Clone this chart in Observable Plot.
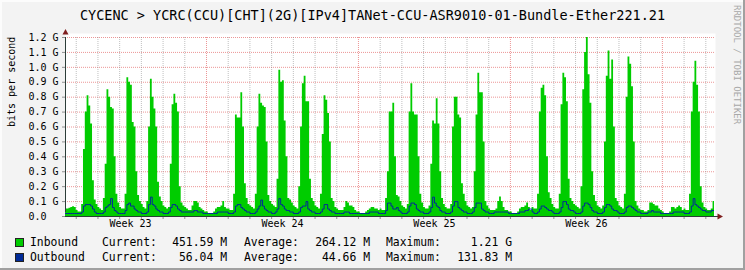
<!DOCTYPE html>
<html><head><meta charset="utf-8">
<script src="https://cdn.jsdelivr.net/npm/d3@7"></script>
<script src="https://cdn.jsdelivr.net/npm/@observablehq/plot@0.6"></script>
<style>
html,body{margin:0;padding:0;background:#f3f3f3;}
#wrap{position:relative;width:745px;height:270px;background:#f3f3f3;overflow:hidden;font-family:"DejaVu Sans Mono",monospace;color:#000;
  box-shadow: inset -2px -2px 0 #a0a0a0, inset 2px 2px 0 #fcfcfc;}
#wrap svg{position:absolute;left:0;top:0;}
.t{position:absolute;white-space:pre;line-height:14px;}
.box{position:absolute;width:7px;height:7px;border:1px solid #222;}
</style></head>
<body><div id="wrap"></div>
<script>
// ---- data (Gbit/s, 2-hour averages; t in days from start of Week 24) ----
const title = "CYCENC > YCRC(CCU)[CHT](2G)[IPv4]TANet-CCU-ASR9010-01-Bundle-Ether221.21";
const yLabel = "bits per second";
const sideText = "RRDTOOL / TOBI OETIKER";
const seriesStart = -6.5;          // first sample time (days)
const binDays = 1 / 12;            // 2 hours

const inboundWeek23 = [
  0.05,0.05,0.055,0.06,0.065,0.06,
  0.04,0.03,0.03,0.08,0.45,0.7,0.81,0.74,0.62,0.24,0.11,0.08,
  0.06,0.05,0.04,0.12,0.35,0.85,0.8,0.73,0.72,0.4,0.15,0.09,
  0.06,0.05,0.05,0.15,0.93,0.9,0.88,0.63,0.6,0.3,0.14,0.1,
  0.08,0.06,0.05,0.1,0.6,0.92,0.8,0.72,0.6,0.23,0.13,0.1,
  0.07,0.06,0.05,0.06,0.35,0.75,0.82,0.76,0.7,0.2,0.09,0.07,
  0.06,0.05,0.04,0.04,0.07,0.1,0.1,0.09,0.06,0.05,0.04,0.03
];
const inboundWeek24 = [
  0.03,0.02,0.02,0.02,0.03,0.05,0.06,0.06,0.07,0.1,0.06,0.05,
  0.05,0.04,0.04,0.15,0.68,0.66,0.66,0.83,0.6,0.22,0.12,0.08,
  0.07,0.06,0.05,0.15,0.6,0.82,0.76,0.74,0.73,0.5,0.14,0.1,
  0.08,0.07,0.06,0.25,0.98,0.9,0.91,0.64,0.4,0.12,0.11,0.09,
  0.07,0.06,0.05,0.2,0.6,0.89,0.94,0.77,0.77,0.25,0.12,0.1,
  0.07,0.06,0.05,0.15,0.55,0.81,0.78,0.69,0.5,0.12,0.1,0.06,
  0.05,0.04,0.04,0.04,0.06,0.1,0.09,0.07,0.07,0.06,0.04,0.03
];
const inboundWeek25 = [
  0.03,0.02,0.02,0.02,0.03,0.04,0.05,0.06,0.06,0.05,0.05,0.04,
  0.05,0.04,0.04,0.12,0.3,0.7,0.7,0.76,0.4,0.14,0.13,0.1,
  0.07,0.06,0.05,0.08,0.7,0.89,0.7,0.68,0.68,0.4,0.15,0.09,
  0.06,0.05,0.05,0.07,0.35,0.64,0.62,0.79,0.62,0.3,0.12,0.08,
  0.06,0.05,0.05,0.08,0.6,0.8,0.8,0.68,0.66,0.22,0.15,0.1,
  0.07,0.06,0.05,0.06,0.3,0.68,0.96,0.83,0.83,0.5,0.1,0.07,
  0.05,0.04,0.04,0.04,0.05,0.1,0.13,0.1,0.06,0.04,0.04,0.03
];
const inboundWeek26 = [
  0.03,0.02,0.02,0.02,0.03,0.05,0.06,0.06,0.07,0.09,0.06,0.04,
  0.06,0.05,0.05,0.15,0.7,0.86,0.88,0.81,0.4,0.16,0.12,0.08,
  0.06,0.05,0.05,0.15,0.75,0.96,0.93,0.77,0.25,0.12,0.1,0.08,
  0.07,0.06,0.05,0.2,0.85,1.1,1.21,0.95,0.76,0.3,0.14,0.1,
  0.07,0.06,0.05,0.07,0.5,0.94,1.11,0.92,1.05,0.6,0.12,0.1,
  0.07,0.06,0.05,0.15,0.8,1.07,1.02,0.87,0.5,0.1,0.07,0.05,
  0.04,0.04,0.03,0.03,0.04,0.09,0.09,0.08,0.07,0.07,0.05,0.04
];
const inboundWeek27 = [
  0.03,0.02,0.02,0.02,0.03,0.06,0.06,0.05,0.06,0.07,0.06,0.04,
  0.05,0.04,0.04,0.15,0.7,0.9,1.04,0.88,0.7,0.2,0.09,0.06,
  0.05,0.04,0.04,0.05,0.1
];

const outboundWeek23 = [
  0.02,0.02,0.02,0.02,0.02,0.02,
  0.02,0.02,0.02,0.03,0.07,0.08,0.08,0.08,0.07,0.05,0.03,0.02,
  0.02,0.02,0.02,0.03,0.06,0.07,0.08,0.12,0.06,0.04,0.03,0.02,
  0.02,0.02,0.02,0.04,0.08,0.09,0.07,0.07,0.05,0.04,0.03,0.03,
  0.02,0.02,0.02,0.03,0.08,0.13,0.08,0.07,0.05,0.04,0.03,0.03,
  0.02,0.02,0.02,0.03,0.06,0.08,0.08,0.07,0.05,0.04,0.03,0.03,
  0.03,0.03,0.03,0.03,0.03,0.04,0.04,0.03,0.03,0.03,0.02,0.02
];
const outboundWeek24 = [
  0.02,0.02,0.02,0.02,0.02,0.02,0.03,0.03,0.03,0.03,0.03,0.03,
  0.02,0.02,0.02,0.03,0.07,0.08,0.08,0.06,0.05,0.04,0.03,0.03,
  0.02,0.02,0.02,0.03,0.05,0.07,0.11,0.07,0.05,0.04,0.03,0.03,
  0.02,0.02,0.03,0.05,0.12,0.08,0.07,0.05,0.04,0.04,0.03,0.03,
  0.02,0.02,0.02,0.03,0.06,0.07,0.07,0.1,0.05,0.04,0.03,0.03,
  0.02,0.02,0.02,0.03,0.05,0.08,0.08,0.05,0.04,0.03,0.03,0.02,
  0.02,0.02,0.02,0.02,0.03,0.03,0.03,0.02,0.02,0.02,0.02,0.02
];
const outboundWeek25 = [
  0.02,0.02,0.02,0.02,0.02,0.02,0.03,0.03,0.03,0.03,0.03,0.02,
  0.02,0.02,0.02,0.04,0.09,0.09,0.07,0.05,0.05,0.06,0.04,0.03,
  0.02,0.02,0.02,0.03,0.07,0.09,0.09,0.08,0.05,0.04,0.03,0.03,
  0.02,0.02,0.02,0.03,0.06,0.13,0.09,0.07,0.06,0.04,0.03,0.03,
  0.02,0.02,0.02,0.03,0.07,0.1,0.1,0.06,0.05,0.04,0.03,0.03,
  0.02,0.02,0.02,0.03,0.06,0.09,0.09,0.09,0.05,0.04,0.03,0.03,
  0.02,0.02,0.02,0.03,0.03,0.03,0.03,0.03,0.03,0.03,0.03,0.02
];
const outboundWeek26 = [
  0.02,0.02,0.02,0.02,0.02,0.03,0.03,0.03,0.04,0.04,0.05,0.05,
  0.03,0.02,0.02,0.03,0.05,0.07,0.07,0.06,0.05,0.04,0.04,0.03,
  0.02,0.02,0.02,0.03,0.06,0.1,0.1,0.08,0.05,0.04,0.04,0.03,
  0.02,0.02,0.02,0.03,0.07,0.09,0.09,0.08,0.06,0.04,0.03,0.03,
  0.02,0.02,0.02,0.03,0.06,0.08,0.08,0.07,0.05,0.04,0.04,0.03,
  0.02,0.02,0.02,0.03,0.06,0.07,0.07,0.06,0.05,0.04,0.03,0.03,
  0.02,0.02,0.02,0.02,0.03,0.03,0.04,0.03,0.03,0.03,0.03,0.02
];
const outboundWeek27 = [
  0.02,0.02,0.02,0.02,0.02,0.02,0.03,0.03,0.03,0.03,0.03,0.03,
  0.02,0.02,0.02,0.03,0.07,0.12,0.08,0.07,0.06,0.05,0.04,0.04,
  0.03,0.03,0.03,0.04,0.04
];

const yTicks = [0, 0.1, 0.2, 0.3, 0.4, 0.5, 0.6, 0.7, 0.8, 0.9, 1.0, 1.1, 1.2];
const weekLabels = ["Week 23", "Week 24", "Week 25", "Week 26"];
const weekLabelAt = [-3.5, 3.5, 10.5, 17.5];
const weekStarts = [0, 7, 14, 21];
const seriesNames = ["Inbound", "Outbound"];
const seriesColors = ["#00cc00", "#002a97"];
const currentVals = ["451.59 M", "56.04 M"];
const averageVals = ["264.12 M", "44.66 M"];
const maximumVals = ["1.21 G", "131.83 M"];

// ---- build ----
const xDomain = [-6.495, 23.4];
const inbound = [].concat(inboundWeek23, inboundWeek24, inboundWeek25, inboundWeek26, inboundWeek27);
const outbound = [].concat(outboundWeek23, outboundWeek24, outboundWeek25, outboundWeek26, outboundWeek27);
function rows(arr) {
  const r = arr.map((v, i) => ({t: seriesStart + i * binDays, v}));
  r.push({t: seriesStart + arr.length * binDays, v: arr[arr.length - 1]});
  return r;
}
const inRows = rows(inbound), outRows = rows(outbound);
const dayLines = d3.range(Math.ceil(xDomain[0]), Math.floor(xDomain[1]) + 1);

const arrowUp = {draw(c) { c.moveTo(0, -3.5); c.lineTo(3, 2); c.lineTo(-3, 2); c.closePath(); }};
const arrowRight = {draw(c) { c.moveTo(3.5, 0); c.lineTo(-2, -3); c.lineTo(-2, 3); c.closePath(); }};
const axisCol = "#2c3d38";

const chart = Plot.plot({
  width: 745, height: 270,
  marginLeft: 65, marginRight: 31, marginTop: 37, marginBottom: 54,
  x: {domain: xDomain, axis: null, label: null},
  y: {domain: [0, 1.2], axis: null, label: null},
  style: {background: "transparent", fontFamily: "DejaVu Sans Mono", fontSize: "10px", color: "#000", overflow: "visible"},
  marks: [
    Plot.frame({fill: "#ffffff", insetTop: -4, insetRight: -1}),
    Plot.ruleY(yTicks.filter(d => d > 0), {stroke: "#e05050", strokeOpacity: 0.6, strokeDasharray: "1,1"}),
    Plot.ruleX(dayLines.filter(d => !weekStarts.includes(d)), {y1: 0, y2: 1.2, insetTop: -4, stroke: "#808080", strokeOpacity: 0.5, strokeDasharray: "1,1"}),
    Plot.ruleX(weekStarts, {y1: 0, y2: 1.2, insetTop: -4, stroke: "#e05050", strokeOpacity: 0.6, strokeDasharray: "1,1"}),
    Plot.areaY(inRows, {x: "t", y: "v", fill: seriesColors[0], curve: "step-after", clip: true}),
    Plot.lineY(outRows, {x: "t", y: "v", stroke: seriesColors[1], strokeWidth: 1, curve: "step-after", clip: true}),
    Plot.axisX({ticks: dayLines, tickSize: 3, tickFormat: () => "", stroke: "#909090", label: null}),
    Plot.axisY({ticks: yTicks, tickSize: 3, tickFormat: () => "", stroke: "#909090", label: null}),
    Plot.ruleY([0], {stroke: axisCol, insetRight: -4}),
    Plot.ruleX([xDomain[0]], {y1: 0, y2: 1.2, insetTop: -4, stroke: axisCol}),
    Plot.dot([0], {frameAnchor: "top-left", symbol: arrowUp, r: 3, fill: "#7f1f1f", stroke: "none", dy: -5}),
    Plot.dot([0], {frameAnchor: "bottom-right", symbol: arrowRight, r: 3, fill: "#7f1f1f", stroke: "none", dx: 5}),
    Plot.text(yTicks, {y: d => d, frameAnchor: "left", dx: -37, textAnchor: "start", fontSize: 10,
      text: d => d === 0 ? "0.0" : d.toFixed(1) + " G"}),
    Plot.text(weekLabelAt, {x: d => d, frameAnchor: "bottom", dy: 10, fontSize: 10, text: (d, i) => weekLabels[i]}),
    Plot.text([yLabel], {frameAnchor: "left", dx: -54, rotate: -90, fontSize: 10, text: d => d})
  ]
});
const wrap = document.getElementById("wrap");
wrap.appendChild(chart);

function addText(txt, opts) {
  const s = document.createElement("div");
  s.className = "t";
  s.textContent = txt;
  Object.assign(s.style, opts);
  wrap.appendChild(s);
  return s;
}
addText(title, {left: "0px", width: "745px", textAlign: "center", top: "6px", fontSize: "13.5px", lineHeight: "18px"});
addText(sideText, {left: "732px", top: "5px", fontSize: "9px", color: "#a8a8a8", writingMode: "vertical-rl", lineHeight: "9px"});

const rowY = [242, 256.5];
seriesNames.forEach((name, i) => {
  const top = (rowY[i] - 7) + "px";
  const b = document.createElement("div");
  b.className = "box";
  Object.assign(b.style, {left: "15px", top: (rowY[i] - 4) + "px", background: seriesColors[i]});
  wrap.appendChild(b);
  const fs = "11.4px";
  addText(name, {left: "30px", top, fontSize: fs});
  addText("Current:", {left: "102px", top, fontSize: fs});
  addText(currentVals[i], {right: (745 - 227) + "px", top, fontSize: fs});
  addText("Average:", {left: "244px", top, fontSize: fs});
  addText(averageVals[i], {right: (745 - 370) + "px", top, fontSize: fs});
  addText("Maximum:", {left: "386px", top, fontSize: fs});
  addText(maximumVals[i], {right: (745 - 512) + "px", top, fontSize: fs});
});
</script></body></html>
